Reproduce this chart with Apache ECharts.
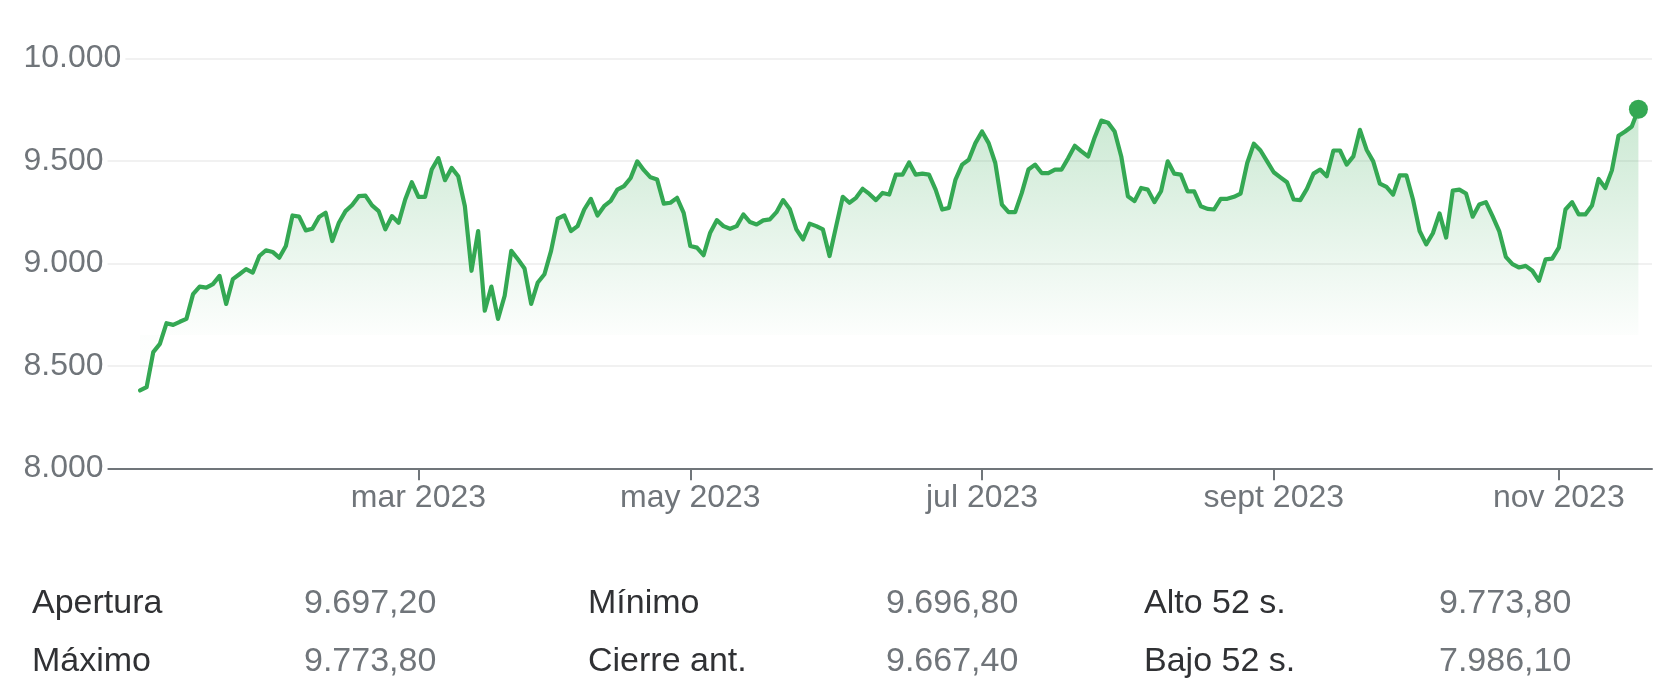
<!DOCTYPE html>
<html>
<head>
<meta charset="utf-8">
<title>IBEX 35 2023</title>
<script src="https://cdn.jsdelivr.net/npm/echarts@6/dist/echarts.min.js"></script>
<style>
  html, body { margin: 0; padding: 0; background: #fff; }
  #chart { width: 1675px; height: 699px; }
</style>
</head>
<body>
<div id="chart"></div>
<script>
// Closing values per trading day, 2 Jan 2023 -> 17 Nov 2023
const closes = [
  8380, 8396, 8567, 8607, 8708, 8700, 8715, 8729, 8850, 8887,
  8882, 8899, 8939, 8802, 8923, 8947, 8972, 8955, 9036, 9064,
  9056, 9028, 9085, 9234, 9228, 9161, 9169, 9226, 9247, 9109,
  9198, 9255, 9285, 9328, 9331, 9283, 9255, 9166, 9231, 9198,
  9312, 9396, 9325, 9325, 9458, 9514, 9406, 9466, 9425, 9279,
  8964, 9158, 8769, 8887, 8729, 8842, 9061, 9020, 8975, 8802,
  8907, 8947, 9061, 9218, 9234, 9158, 9182, 9263, 9315, 9234,
  9279, 9305, 9360, 9377, 9417, 9498, 9455, 9420, 9409, 9292,
  9296, 9320, 9247, 9085, 9077, 9040, 9150, 9211, 9182, 9169,
  9182, 9239, 9202, 9190, 9210, 9215, 9250, 9309, 9266, 9166,
  9117, 9194, 9182, 9166, 9036, 9182, 9325, 9296, 9320, 9364,
  9339, 9309, 9344, 9336, 9433, 9433, 9493, 9433, 9438, 9433,
  9360, 9263, 9271, 9409, 9482, 9506, 9587, 9644, 9587, 9490,
  9287, 9250, 9250, 9344, 9458, 9482, 9441, 9441, 9458, 9458,
  9514, 9574, 9547, 9522, 9616, 9697, 9687, 9644, 9522, 9328,
  9304, 9368, 9360, 9299, 9352, 9498, 9438, 9433, 9352, 9352,
  9279, 9266, 9263, 9315, 9315, 9325, 9341, 9490, 9584, 9551,
  9498, 9445, 9420, 9396, 9312, 9309, 9364, 9438, 9458, 9425,
  9551, 9551, 9482, 9522, 9652, 9555, 9498, 9389, 9373, 9336,
  9430, 9430, 9312, 9158, 9093, 9147, 9244, 9126, 9355, 9360,
  9341, 9228, 9287, 9299, 9231, 9158, 9032, 8996, 8980, 8988,
  8964, 8915, 9020, 9023, 9077, 9263, 9299, 9239, 9239, 9283,
  9412, 9368, 9454, 9623, 9644, 9668, 9752
];

// Month ticks: trading-day index of the first session of the month
const tickIndex = [42, 83, 127, 171, 214];
const tickLabels = ['mar 2023', 'may 2023', 'jul 2023', 'sept 2023', 'nov 2023'];

// Summary table under the chart
const statNames = [['Apertura', 'Máximo'], ['Mínimo', 'Cierre ant.'], ['Alto 52 s.', 'Bajo 52 s.']];
const statValues = [['9.697,20', '9.773,80'], ['9.696,80', '9.667,40'], ['9.773,80', '7.986,10']];

const GREEN = '#34a853';
const GRAY = '#70757a';
const FONT = '"Liberation Sans", Arial, sans-serif';

function fmtThousands(v) {
    return String(v).replace(/\B(?=(\d{3})+(?!\d))/g, '.');
}

const chart = echarts.init(document.getElementById('chart'), null, { renderer: 'canvas' });

const lineData = closes.map((v, i) => [i, v]);
const lastPoint = [closes.length - 1, closes[closes.length - 1]];

// Table text elements
const tableItems = [];
const nameX = [32, 588, 1144];
const valueX = [304, 886, 1439];
const rowY = [607, 665];
statNames.forEach((col, c) => {
    col.forEach((name, r) => {
        tableItems.push({
            type: 'text',
            left: nameX[c],
            top: rowY[r] - 20,
            style: { text: name, fontSize: 34, fontFamily: FONT, fill: '#303134' }
        });
        tableItems.push({
            type: 'text',
            left: valueX[c],
            top: rowY[r] - 20,
            style: { text: statValues[c][r], fontSize: 34, fontFamily: FONT, fill: GRAY }
        });
    });
});

const option = {
    animation: false,
    backgroundColor: '#ffffff',
    grid: {
        left: 104,
        right: 23,
        top: 58.5,
        bottom: 230.7,
        containLabel: false
    },
    xAxis: {
        type: 'value',
        min: -5.43,
        max: 228.05,
        splitLine: { show: false },
        axisLine: { show: true, lineStyle: { color: GRAY, width: 2 } },
        axisTick: {
            show: true,
            customValues: tickIndex,
            length: 12,
            lineStyle: { color: GRAY, width: 2 }
        },
        axisLabel: {
            customValues: tickIndex,
            formatter: v => tickLabels[tickIndex.indexOf(v)] || '',
            color: GRAY,
            fontSize: 32,
            fontFamily: FONT,
            margin: 14
        }
    },
    yAxis: {
        type: 'value',
        min: 8000,
        max: 10000,
        interval: 500,
        axisLine: { show: false },
        axisTick: { show: false },
        splitLine: { lineStyle: { color: '#ededed', width: 1.5 } },
        axisLabel: {
            formatter: v => fmtThousands(v),
            align: 'left',
            margin: 80.5,
            color: GRAY,
            fontSize: 32,
            fontFamily: FONT,
            backgroundColor: '#ffffff',
            padding: [0, 4, 0, 0]
        }
    },
    series: [
        {
            type: 'line',
            data: lineData,
            showSymbol: false,
            smooth: false,
            lineStyle: { color: GREEN, width: 4.2, cap: 'round', join: 'round' },
            areaStyle: {
                origin: 8650,
                opacity: 1,
                color: {
                    type: 'linear', global: true,
                    x: 0, y: 110, x2: 0, y2: 336,
                    colorStops: [
                        { offset: 0, color: 'rgba(52, 168, 83, 0.26)' },
                        { offset: 1, color: 'rgba(52, 168, 83, 0.01)' }
                    ]
                }
            },
            z: 3
        },
        {
            type: 'scatter',
            data: [lastPoint],
            symbolSize: 19,
            itemStyle: { color: GREEN, opacity: 1 },
            z: 4
        }
    ],
    graphic: tableItems
};

chart.setOption(option);
</script>
</body>
</html>
